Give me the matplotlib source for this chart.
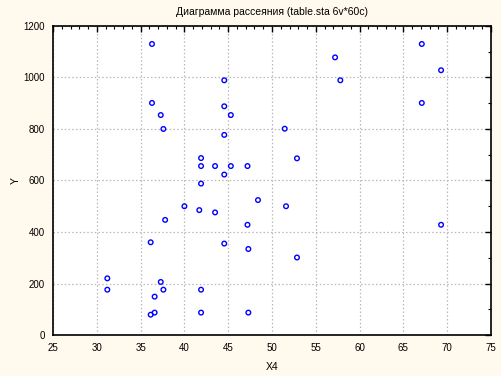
import matplotlib
matplotlib.use("Agg")
import matplotlib.pyplot as plt
from matplotlib.ticker import MultipleLocator

x4 = [36.3, 44.55, 36.3, 44.55, 37.3, 45.3, 37.6, 44.55, 41.9, 41.9, 43.5, 45.3, 47.2,
      44.55, 41.9, 48.4, 40.0, 41.7, 43.5, 37.8, 47.2, 36.15, 44.55, 47.3, 31.2, 37.3,
      31.2, 37.6, 41.9, 36.6, 36.15, 36.6, 41.9, 47.3, 67.1, 57.2, 69.3, 57.8, 67.1,
      51.45, 52.85, 51.6, 69.3, 52.85]
y = [1130, 989, 901, 888, 854, 854, 800, 777, 687, 656, 656, 656, 656,
     623, 588, 524, 500, 485, 476, 447, 428, 360, 355, 334, 220, 206,
     176, 176, 176, 149, 79, 87, 87, 87, 1130, 1078, 1028, 989, 901,
     801, 686, 500, 428, 301]

title = "Диаграмма рассеяния (table.sta 6v*60c)"
xlabel = "X4"
ylabel = "Y"

plt.rcParams['font.family'] = ['Liberation Sans', 'DejaVu Sans']
fig = plt.figure(figsize=(5.02, 3.76), dpi=100, facecolor='#fff9ee')
ax = fig.add_axes([0.1056, 0.109, 0.8725, 0.822])
ax.set_facecolor('white')
ax.scatter(x4, y, s=11, marker='o', facecolors='none', edgecolors='#0000ff', linewidths=1.0, zorder=3)
ax.set_xlim(25, 75)
ax.set_ylim(0, 1200)
ax.xaxis.set_major_locator(MultipleLocator(5))
ax.xaxis.set_minor_locator(MultipleLocator(1))
ax.yaxis.set_major_locator(MultipleLocator(200))
ax.yaxis.set_minor_locator(MultipleLocator(100))
ax.grid(True, which='major', color='#b8b8b8', linestyle=(0, (1.2, 1.8)), linewidth=0.9)
ax.tick_params(which='both', direction='in', top=True, right=True, bottom=False, left=False,
               labelsize=7, colors='black')
ax.tick_params(which='major', length=4, width=1)
ax.tick_params(which='minor', length=2.5, width=0.8)
ax.tick_params(axis='x', pad=6)
ax.tick_params(axis='y', pad=6)
for s in ax.spines.values():
    s.set_linewidth(1.2)
ax.set_title(title, fontsize=7.5, pad=8)
ax.set_xlabel(xlabel, fontsize=7.5, labelpad=6)
ax.set_ylabel(ylabel, fontsize=7.5, labelpad=2)
fig.savefig("out.png", dpi=100, facecolor=fig.get_facecolor())
